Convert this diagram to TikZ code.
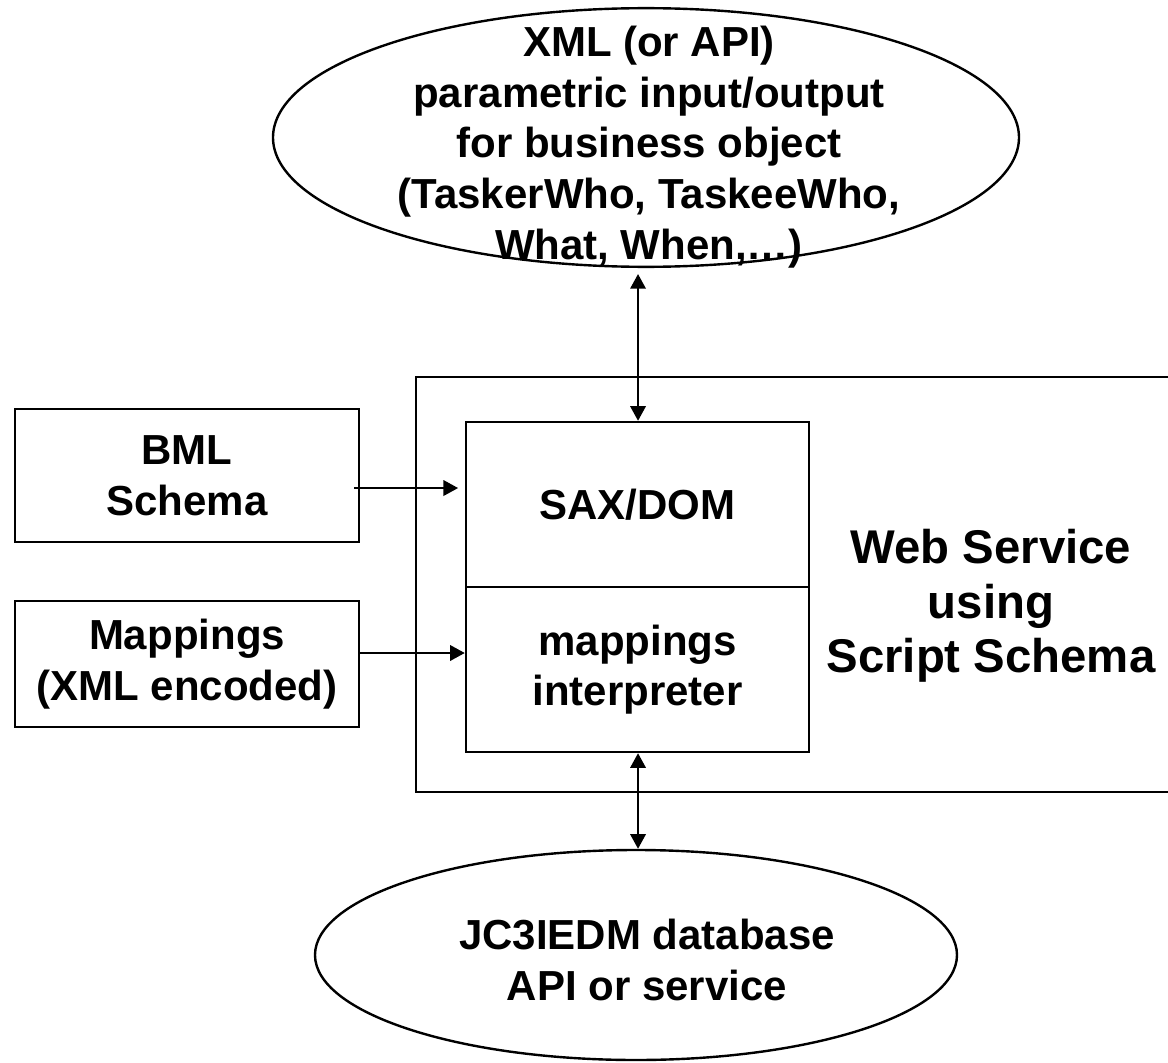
\documentclass[tikz,border=0pt]{standalone}
\usepackage{fontspec}
\setmainfont{Liberation Sans}
\usetikzlibrary{arrows.meta,shapes.geometric}

\tikzset{
  px/.style={x=0.75pt,y=-0.75pt},
  line/.style={line width=1.8pt},
  box/.style={draw,line,rectangle,inner sep=0pt},
  oval/.style={draw,line,ellipse,inner sep=0pt},
  label/.style={font=\bfseries\fontsize{31.5pt}{38pt}\selectfont,align=center,inner sep=0pt},
  biglabel/.style={font=\bfseries\fontsize{35.5pt}{41pt}\selectfont,align=center,inner sep=0pt},
  arr/.style={line,-{Triangle[length=11pt,width=11.5pt]}},
  dblarr/.style={line,{Triangle[length=11pt,width=11.5pt]}-{Triangle[length=11pt,width=11.5pt]}}
}

\begin{document}
\begin{tikzpicture}[px]
  \useasboundingbox (0,0) rectangle (1168,1063);
  \clip (0,0) rectangle (1168,1063);

  % web service container (runs off the right edge)
  \node[box,minimum width=573pt,minimum height=311.25pt] (ws) at (798,584.5) {};
  \node[biglabel] (wstxt) at (991,606) {Web Service\\using\\Script Schema};

  % parser and interpreter inside the service
  \node[box,minimum width=257.25pt,minimum height=123.75pt,label] (sax) at (637.5,504.5) {SAX/DOM};
  \node[box,minimum width=257.25pt,minimum height=123.75pt,label] (mi) at (637.5,669.5) {mappings\\interpreter};

  % inputs on the left
  \node[box,minimum width=258pt,minimum height=99.75pt,label] (bml) at (187,475.5) {BML\\Schema};
  \node[box,minimum width=258pt,minimum height=94.5pt,label] (map) at (187,664) {Mappings\\(XML encoded)};

  % business object interface on top
  \node[oval,minimum width=559.5pt,minimum height=194pt] (xmlio) at (646,137.5) {};
  \node[label] (xmltxt) at (649,147) {XML (or API)\\parametric input/output\\for business object\\(TaskerWho, TaskeeWho,\\What, When,\ldots)};

  % database at the bottom
  \node[oval,minimum width=481.5pt,minimum height=157.5pt] (db) at (636,955) {};
  \node[label] (dbtxt) at (647,960) {JC3IEDM database\\API or service};

  % connectors
  \coordinate (bmlout) at ([xshift=-4.5pt,yshift=-9.4pt]bml.east);
  \draw[arr,shorten >=5pt] (bmlout) -- (bmlout -| sax.west);
  \coordinate (mapout) at ([yshift=8.25pt]map.east);
  \draw[arr] (mapout) -- (mapout -| mi.west);
  \draw[dblarr,shorten >=4.5pt] ([xshift=0.4pt]sax.north) -- ([xshift=0.4pt]sax.north |- xmlio.south);
  \draw[dblarr] ([xshift=0.4pt]mi.south) -- ([xshift=0.4pt]mi.south |- db.north);
\end{tikzpicture}
\end{document}
